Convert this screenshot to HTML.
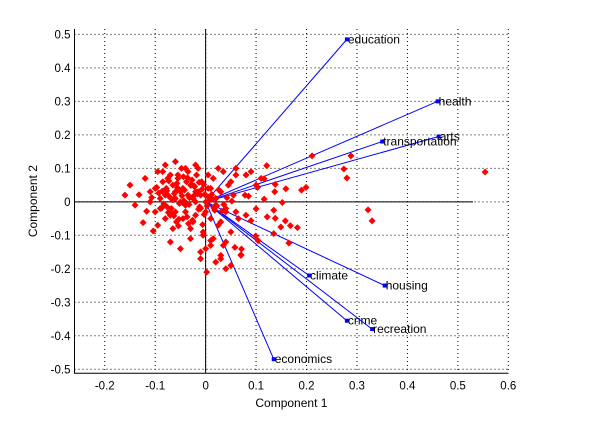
<!DOCTYPE html>
<html><head><meta charset="utf-8"><style>
body{margin:0;background:#fff;}
svg text{font-family:"Liberation Sans",sans-serif;font-size:12px;}
svg text.tick{font-size:11.5px;}
</style></head><body>
<svg id="chart" width="590" height="419" xmlns="http://www.w3.org/2000/svg"></svg>
<script>
const xTicks=[-0.2,-0.1,0,0.1,0.2,0.3,0.4,0.5,0.6];
const xTickLabels=["-0.2","-0.1","0","0.1","0.2","0.3","0.4","0.5","0.6"];
const yTicks=[-0.5,-0.4,-0.3,-0.2,-0.1,0,0.1,0.2,0.3,0.4,0.5];
const yTickLabels=["-0.5","-0.4","-0.3","-0.2","-0.1","0","0.1","0.2","0.3","0.4","0.5"];
const varNames=["education","health","arts","transportation","climate","housing","crime","recreation","economics"];
const varX=[0.28,0.46,0.462,0.35,0.205,0.355,0.28,0.33,0.135];
const varY=[0.485,0.30,0.195,0.18,-0.22,-0.25,-0.355,-0.38,-0.47];
const ptX=[0.211,0.288,0.274,0.28,0.554,0.322,0.33,0.121,0.159,0.19,0.199,0.116,0.152,0.135,0.122,0.138,0.158,0.149,0.168,0.182,0.135,0.165,0.099,0.104,0.058,0.071,0.07,0.1,0.09,0.138,0.137,0.116,0.1,0.103,0.085,0.078,
-0.132,-0.124,-0.104,0.002,0.01,-0.16,-0.15,-0.14,-0.12,-0.11,-0.1,-0.095,-0.09,-0.085,-0.08,-0.078,-0.075,-0.07,-0.068,-0.065,-0.06,-0.058,-0.055,-0.05,-0.048,-0.045,-0.04,-0.038,-0.035,-0.03,-0.028,-0.025,-0.02,-0.018,-0.015,-0.01,-0.008,-0.005,0,0.005,0.01,0.015,0.02,0.025,0.03,0.035,0.04,0.045,0.05,0.055,0.06,0.065,
-0.11,-0.1,-0.09,-0.08,-0.07,-0.06,-0.05,-0.04,-0.03,-0.02,-0.01,0,0.01,0.02,0.03,0.04,0.05,-0.095,-0.085,-0.075,-0.065,-0.055,-0.045,-0.035,-0.025,-0.015,-0.005,0.005,0.015,0.025,0.035,-0.07,-0.05,-0.03,-0.01,0.01,0.03,-0.06,-0.04,-0.02,0,0.02,0.04,0.06,0.08,0.02,0.04,-0.01,0.0,0.03,0.05,0.07,-0.08,-0.06,-0.04,-0.02,0.06,0.08,0.09,0.11,
-0.072,-0.062,-0.052,-0.042,-0.032,-0.022,-0.012,-0.002,0.008,0.018,-0.067,-0.057,-0.047,-0.037,-0.027,-0.017,-0.007,0.003,0.013,-0.077,-0.087,-0.097,-0.107,-0.117,-0.063,-0.053,-0.043,-0.033,-0.023,-0.013,-0.003,-0.073,-0.083,-0.093,-0.044,-0.034,-0.024,-0.014,-0.054,-0.064,-0.074,-0.004,0.006,0.016,0.026,0.036,-0.046,-0.036,-0.026,-0.016,-0.006,-0.056,-0.066,-0.076,-0.086,0.012,0.022,0.032,0.042,0.052];
const ptY=[0.137,0.137,0.098,0.071,0.089,-0.024,-0.057,0.108,0.039,0.035,0.043,0.008,-0.002,-0.025,-0.045,-0.049,-0.057,-0.075,-0.071,-0.077,-0.095,-0.123,-0.102,-0.116,-0.136,-0.141,-0.158,-0.021,-0.056,0.052,0.03,0.069,0.05,0.043,0.017,0.02,
0.021,-0.062,-0.087,-0.21,-0.116,0.02,0.05,-0.01,0.07,0.03,-0.03,0.09,0.01,0.06,-0.05,0.04,0.02,0.08,-0.02,0.05,0.03,-0.06,0.07,0.0,0.1,0.04,-0.03,0.06,0.02,-0.08,0.05,0.01,-0.04,0.08,0.03,-0.02,0.06,-0.1,0.02,0.04,-0.05,0.07,0.01,-0.07,0.03,0.09,-0.03,0.05,-0.09,0.02,0.08,-0.05,
0.0,0.04,-0.02,0.02,-0.04,0.01,0.03,-0.01,0.05,0.0,0.02,-0.03,0.04,0.01,-0.06,-0.12,0.06,-0.07,0.09,0.07,-0.08,0.08,-0.05,0.09,-0.06,0.1,-0.09,0.08,-0.11,0.1,-0.13,-0.12,-0.14,-0.11,-0.15,-0.13,-0.16,-0.03,-0.01,0.03,0.0,-0.01,-0.02,-0.03,-0.04,-0.18,-0.2,-0.17,-0.14,-0.17,-0.19,-0.16,0.11,0.12,0.1,0.11,0.1,0.08,0.09,0.07,
0.015,0.025,-0.005,0.035,0.012,0.045,-0.015,0.022,0.005,-0.025,-0.035,0.055,0.018,-0.045,0.065,0.028,0.038,-0.012,0.008,0.033,-0.018,0.043,0.013,-0.028,-0.042,-0.052,0.003,-0.008,0.048,0.058,-0.038,0.062,-0.006,0.026,0.075,-0.065,0.017,-0.022,-0.072,0.007,-0.032,0.052,0.014,-0.018,0.036,-0.008,-0.002,0.072,-0.055,0.024,-0.068,0.042,0.006,-0.016,0.032,0.022,-0.012,-0.028,0.012,0.002];
const svg=document.getElementById('chart');
const NS="http://www.w3.org/2000/svg";
const L=74.5,R=508.3,T=29,B=373.3;
const x0=-0.26,x1=0.6,y0=-0.512,y1=0.516;
const sx=v=>L+(v-x0)/(x1-x0)*(R-L);
const sy=v=>B-(v-y0)/(y1-y0)*(B-T);
function mk(tag,attrs){const e=document.createElementNS(NS,tag);for(const k in attrs)e.setAttribute(k,attrs[k]);svg.appendChild(e);return e;}
xTicks.forEach((t,i)=>{
 const g=mk('line',{x1:sx(t),x2:sx(t),y1:T,y2:B,stroke:'#000','stroke-dasharray':'1,3','stroke-width':1});
 
 
 const tk=mk('text',{x:sx(t),y:B+16,'text-anchor':'middle','class':'tick'});tk.textContent=xTickLabels[i];
 
 
});
yTicks.forEach((t,i)=>{
 const g=mk('line',{x1:L,x2:R,y1:sy(t),y2:sy(t),stroke:'#000','stroke-dasharray':'1,3','stroke-width':1});
 
 
 const tk=mk('text',{x:L-4,y:sy(t)+4,'text-anchor':'end','class':'tick'});tk.textContent=yTickLabels[i];
 
 
});
const hz=mk('line',{x1:L,x2:sx(0.53),y1:sy(0),y2:sy(0),stroke:'#000'});


const vz=mk('line',{x1:sx(0),x2:sx(0),y1:T,y2:B,stroke:'#000'});


varNames.forEach((n,i)=>{
 const l=mk('line',{x1:sx(0),y1:sy(0),x2:sx(varX[i]),y2:sy(varY[i]),stroke:'#0000ff','stroke-width':1});
 
 
 const d=mk('rect',{x:sx(varX[i])-2,y:sy(varY[i])-2,width:4,height:4,fill:'#0000ff'});
 
 
 const t=mk('text',{x:sx(varX[i])+1,y:sy(varY[i])+4,fill:'#000'});t.textContent=n;
 
 
});
ptX.forEach((v,i)=>{
 const cx=sx(v),cy=sy(ptY[i]);
 const p=mk('path',{d:`M${cx-3.5},${cy}L${cx},${cy-3.5}L${cx+3.5},${cy}L${cx},${cy+3.5}Z`,fill:'#ff0000'});
 
 
});
const ax=mk('path',{d:`M${L},${T}L${L},${B}L${R},${B}`,fill:'none',stroke:'#000'});


const xl=mk('text',{x:(L+R)/2,y:407,'text-anchor':'middle'});xl.textContent='Component 1';


const yl=mk('text',{x:0,y:0,'text-anchor':'middle',transform:`translate(37,${(T+B)/2}) rotate(-90)`});yl.textContent='Component 2';


</script>
</body></html>
